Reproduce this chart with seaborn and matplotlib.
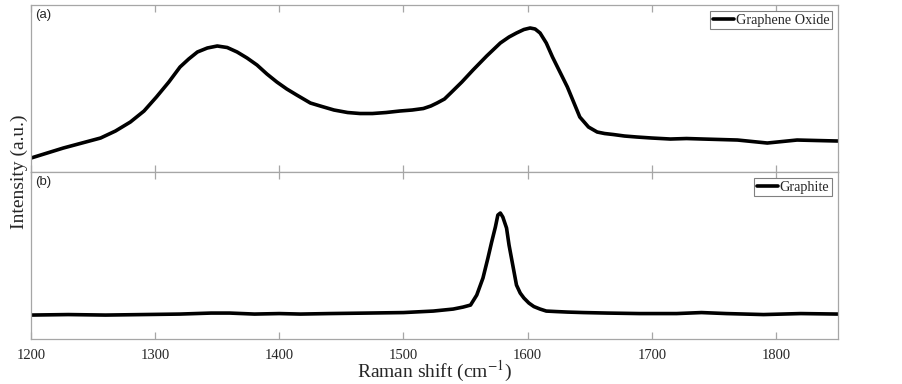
import matplotlib
matplotlib.use("Agg")
import matplotlib.pyplot as plt
import pandas as pd
import seaborn as sns

# Raman spectra (intensity in arbitrary units)
GO_SHIFT = [1200, 1213, 1226, 1241, 1256, 1268, 1280, 1291, 1301, 1311, 1320,
            1327, 1334, 1342, 1350, 1358, 1366, 1374, 1382, 1390, 1398, 1406,
            1414, 1425, 1433, 1444, 1455, 1465, 1475, 1486, 1497, 1507, 1516,
            1522, 1527, 1533, 1538, 1547, 1556, 1567, 1578, 1585, 1591, 1597,
            1602, 1606, 1610, 1615, 1620, 1626, 1632, 1637, 1642, 1649, 1656,
            1662, 1669, 1678, 1688, 1700, 1715, 1728, 1741, 1755, 1769, 1781,
            1793, 1805, 1817, 1833, 1850]
GO_INT = [14, 19, 24, 29, 34, 41, 50, 61, 75, 90, 105,
          113, 120, 124, 126, 124.5, 120, 114, 107, 98, 90, 83,
          77, 69, 66, 62, 59.5, 58.5, 58.5, 59.5, 61, 62, 63.5,
          66, 69, 73, 79, 90, 102, 116, 129, 135, 139, 142.5,
          144, 143, 139, 129, 115, 100, 85, 70, 55, 45, 40,
          38.5, 37.5, 36, 35, 34, 33, 33.5, 33, 32.5, 32, 30.5,
          29, 30.5, 32, 31.5, 31]

GR_SHIFT = [1200, 1230, 1260, 1290, 1320, 1345, 1360, 1380, 1400, 1417, 1440,
            1471, 1500, 1524, 1540, 1548, 1554, 1559, 1564, 1568, 1571, 1574,
            1576, 1578, 1580, 1583, 1585, 1588, 1591, 1594, 1597, 1601, 1605,
            1610, 1615, 1623, 1632, 1645, 1664, 1690, 1720, 1740, 1760, 1790,
            1820, 1850]
GR_INT = [24, 24.5, 24, 24.5, 25, 26, 26, 25, 25.5, 25, 25.5,
          26, 26.5, 28, 30, 32, 34, 44, 61, 81, 97, 112,
          124, 126, 122, 111, 94, 74, 54, 46, 41, 36, 32.5,
          30, 28, 27.5, 27, 26.5, 26, 25.5, 25.5, 26.5, 25.5, 24.5,
          25.5, 25]

X_TICKS = [1200, 1300, 1400, 1500, 1600, 1700, 1800]

go = pd.DataFrame({"shift": GO_SHIFT, "intensity": GO_INT})
gr = pd.DataFrame({"shift": GR_SHIFT, "intensity": GR_INT})

sns.set_style("white")
plt.rcParams["font.family"] = ["Liberation Serif", "DejaVu Serif"]
plt.rcParams["mathtext.fontset"] = "stix"

fig = plt.figure(figsize=(9.02, 3.84), dpi=100)
ax1 = fig.add_axes([0.0344, 0.552, 0.8947, 0.435])
ax2 = fig.add_axes([0.0344, 0.117, 0.8947, 0.435], sharex=ax1)

GRAY = "#a6a6a6"
for ax, df, name, tag in [(ax1, go, "Graphene Oxide", "(a)"), (ax2, gr, "Graphite", "(b)")]:
    sns.lineplot(data=df, x="shift", y="intensity", ax=ax, color="black",
                 linewidth=2.6, label=name, sort=False)
    for ln in ax.get_lines():
        ln.set_solid_joinstyle("round")
        ln.set_solid_capstyle("round")
    ax.set_ylim(0, 167)
    ax.set_xlim(1200, 1850)
    ax.set_xticks(X_TICKS)
    ax.set_yticks([])
    ax.set_xlabel("")
    ax.set_ylabel("")
    for sp in ax.spines.values():
        sp.set_color(GRAY)
        sp.set_linewidth(0.9)
    ax.tick_params(axis="x", direction="in", top=True, bottom=True, length=5,
                   width=0.9, color=GRAY, labelsize=10.5, pad=7)
    leg = ax.legend(loc="upper right", fontsize=10.3, handlelength=1.5,
                    handletextpad=0.1, borderpad=0.2, borderaxespad=0.4,
                    fancybox=False, framealpha=1)
    leg.get_frame().set_edgecolor("#808080")
    leg.get_frame().set_linewidth(0.8)
    ax.text(0.005, 0.975, tag, transform=ax.transAxes, ha="left", va="top",
            fontsize=9.5, family=["Liberation Sans", "DejaVu Sans"])

ax1.tick_params(axis="x", labelbottom=False)
ax2.set_xlabel("Raman shift (cm$^{-1}$)", fontsize=14, labelpad=-2)
fig.text(0.021, 0.552, "Intensity (a.u.)", rotation=90, ha="center", va="center",
         fontsize=14)

fig.savefig("out.png", dpi=100)
